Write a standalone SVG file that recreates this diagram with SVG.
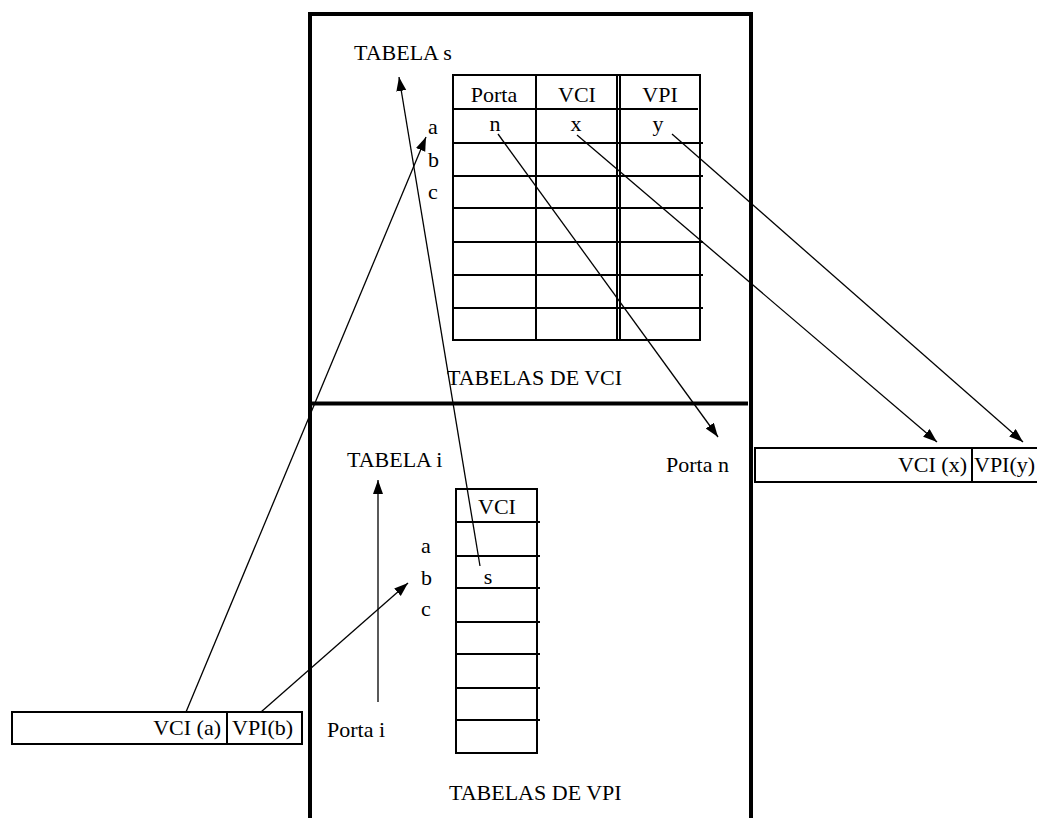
<svg xmlns="http://www.w3.org/2000/svg" width="1037" height="818" viewBox="0 0 1037 818">
<style>
  text { font-family: "Liberation Serif", "Times New Roman", serif; font-size: 22px; fill: #000; }
  .mid { text-anchor: middle; }
  .end { text-anchor: end; }
  .frame { stroke: #000; stroke-width: 4; fill: none; }
  .tbl { stroke: #000; stroke-width: 2; fill: none; }
  .conn { stroke: #000; stroke-width: 1.3; fill: none; marker-end: url(#ah); }
</style>
<defs>
  <marker id="ah" markerUnits="userSpaceOnUse" markerWidth="15" markerHeight="11" refX="14" refY="5" orient="auto">
    <path d="M0,0 L14,5 L0,10 z" fill="#000"/>
  </marker>
</defs>
<rect width="1037" height="818" fill="#fff"/>

<g id="frame">
  <path class="frame" d="M310,818 V14 H751 V818"/>
  <line class="frame" x1="310" y1="403.5" x2="748" y2="403.5" stroke-width="4.5"/>
</g>

<g id="tabela-s">
  <text x="354" y="60">TABELA s</text>
  <rect class="tbl" x="453" y="75" width="247" height="265"/>
  <line class="tbl" x1="536" y1="75" x2="536" y2="340" stroke-width="3"/>
  <line class="tbl" x1="617" y1="75" x2="617" y2="340"/>
  <line class="tbl" x1="620" y1="75" x2="620" y2="340"/>
  <line class="tbl" x1="453" y1="109" x2="698" y2="109"/>
  <line class="tbl" x1="453" y1="143" x2="703" y2="143"/>
  <line class="tbl" x1="453" y1="176" x2="703" y2="176"/>
  <line class="tbl" x1="453" y1="208" x2="703" y2="208"/>
  <line class="tbl" x1="453" y1="242" x2="703" y2="242"/>
  <line class="tbl" x1="453" y1="275" x2="703" y2="275"/>
  <line class="tbl" x1="453" y1="308" x2="703" y2="308"/>
  <text class="mid" x="494" y="102">Porta</text>
  <text class="mid" x="577" y="102">VCI</text>
  <text class="mid" x="660" y="102">VPI</text>
  <text class="mid" x="495" y="131">n</text>
  <text class="mid" x="576" y="131">x</text>
  <text class="mid" x="658" y="131">y</text>
  <text x="428" y="134">a</text>
  <text x="428" y="167">b</text>
  <text x="428" y="199">c</text>
  <text x="447" y="385">TABELAS DE VCI</text>
</g>

<g id="tabela-i">
  <text x="347" y="467">TABELA i</text>
  <rect class="tbl" x="456" y="489" width="81" height="264"/>
  <line class="tbl" x1="456" y1="522" x2="540" y2="522"/>
  <line class="tbl" x1="456" y1="556" x2="540" y2="556"/>
  <line class="tbl" x1="456" y1="588" x2="540" y2="588"/>
  <line class="tbl" x1="456" y1="622" x2="540" y2="622"/>
  <line class="tbl" x1="456" y1="654" x2="540" y2="654"/>
  <line class="tbl" x1="456" y1="688" x2="540" y2="688"/>
  <line class="tbl" x1="456" y1="720" x2="540" y2="720"/>
  <text class="mid" x="497" y="514">VCI</text>
  <text class="mid" x="488" y="584">s</text>
  <text x="421" y="553">a</text>
  <text x="421" y="585">b</text>
  <text x="421" y="616">c</text>
  <text x="327" y="737">Porta i</text>
  <text x="449" y="800">TABELAS DE VPI</text>
</g>

<g id="porta-n">
  <text x="666" y="472">Porta n</text>
</g>

<g id="cell-out">
  <rect class="tbl" x="755" y="448" width="300" height="34" stroke-width="1.5"/>
  <line class="tbl" x1="972" y1="448" x2="972" y2="482" stroke-width="1.5"/>
  <text class="end" x="967" y="472">VCI (x)</text>
  <text x="974" y="472">VPI(y)</text>
</g>

<g id="cell-in">
  <rect class="tbl" x="12" y="712" width="290" height="32" stroke-width="1.5"/>
  <line class="tbl" x1="227" y1="712" x2="227" y2="744" stroke-width="1.5"/>
  <text class="end" x="221" y="735">VCI (a)</text>
  <text x="232" y="735">VPI(b)</text>
</g>

<g id="connectors">
  <line class="conn" x1="186" y1="712" x2="426" y2="137"/>
  <line class="conn" x1="261" y1="712" x2="408" y2="583"/>
  <line class="conn" x1="480" y1="566" x2="399" y2="77"/>
  <line class="conn" x1="378" y1="702" x2="378" y2="480"/>
  <line class="conn" x1="498" y1="134" x2="718" y2="437"/>
  <line class="conn" x1="577" y1="135" x2="937" y2="442"/>
  <line class="conn" x1="672" y1="134" x2="1023" y2="442"/>
</g>
</svg>
